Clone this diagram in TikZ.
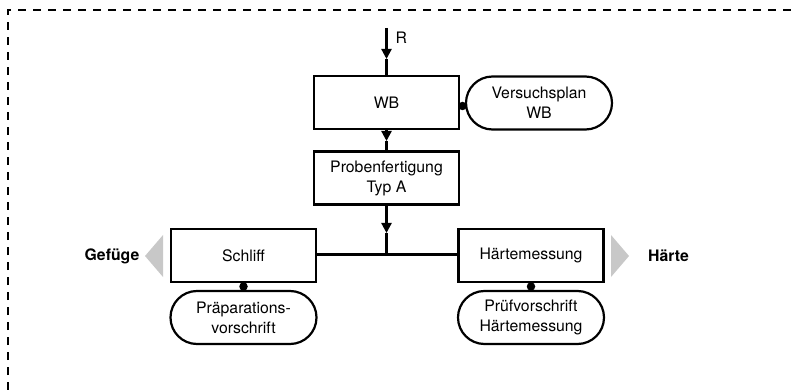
\documentclass[tikz,border=0pt]{standalone}
\usepackage{fontspec}
\setmainfont{TeX Gyre Heros}
\usetikzlibrary{arrows.meta,shapes.misc}
\definecolor{trigray}{RGB}{200,200,200}
\tikzset{
  every node/.style={font=\fontsize{15.8pt}{20pt}\selectfont},
  procbox/.style={draw, line width=2.2pt, rectangle, minimum width=145pt, minimum height=53pt, align=center, inner sep=0pt},
  docbox/.style={draw, line width=2.2pt, rounded rectangle, minimum width=146pt, minimum height=53pt, align=center, inner sep=0pt},
  flow/.style={line width=2.2pt},
  flowarrow/.style={line width=2.2pt, -{Triangle[length=10pt,width=10pt]}},
  dotc/.style={fill=black, circle, inner sep=0pt, minimum size=8.5pt},
  outlab/.style={font=\fontsize{15.8pt}{20pt}\selectfont\bfseries},
  frame/.style={line width=2.2pt, dash pattern=on 8pt off 7pt},
  graytri/.style={fill=trigray, draw=none}
}
\begin{document}
\begin{tikzpicture}[x=1pt,y=-1pt]
\useasboundingbox (0,0) rectangle (795,390);
% dashed frame
\draw[frame] (8,390) -- (8,10) -- (795,10);
% process boxes
\node[procbox] (wb) at (386.5,102.5) {WB};
\node[docbox] (vp) at (539,103) {Versuchsplan\\WB};
\node[procbox] (pf) at (386.5,178) {Probenfertigung\\Typ A};
\node[procbox] (sch) at (243.5,255.5) {Schliff};
\node[procbox] (hm) at (531,255.5) {Härtemessung};
\node[docbox] (pv) at (243.5,317.5) {Präparations-\\vorschrift};
\node[docbox] (ph) at (531,317.5) {Prüfvorschrift\\Härtemessung};
% dots
\node[dotc] (d1) at (462.5,106) {};
\node[dotc] (d2) at (243.5,286.5) {};
\node[dotc] (d3) at (531,286.5) {};
% input arrow R
\coordinate (rtop) at (386.5,28);
\coordinate (rtip) at (386.5,59);
\draw[flowarrow] (rtop) -- (rtip);
\draw[flow] (rtip) -- (wb.north);
\node[anchor=west] (rlab) at (392,38) {R};
% WB -> Probenfertigung
\coordinate (a2) at (386.5,141);
\draw[flowarrow] (wb.south) -- (a2);
\draw[flow] (a2) -- (pf.north);
% Probenfertigung -> junction
\coordinate (a3) at (386.5,233);
\coordinate (junc) at (386.5,254.5);
\draw[flowarrow] (pf.south) -- (a3);
\draw[flow] (a3) -- (junc);
\draw[flow] (sch.east |- junc) -- (hm.west |- junc);
% gray output triangles
\fill[graytri] (145,256) -- (163,235) -- (163,277) -- cycle;
\fill[graytri] (611,235) -- (629,256) -- (611,277) -- cycle;
\node[outlab] (gef) at (112,256) {Gefüge};
\node[outlab] (hae) at (668.5,256) {Härte};
\end{tikzpicture}
\end{document}
